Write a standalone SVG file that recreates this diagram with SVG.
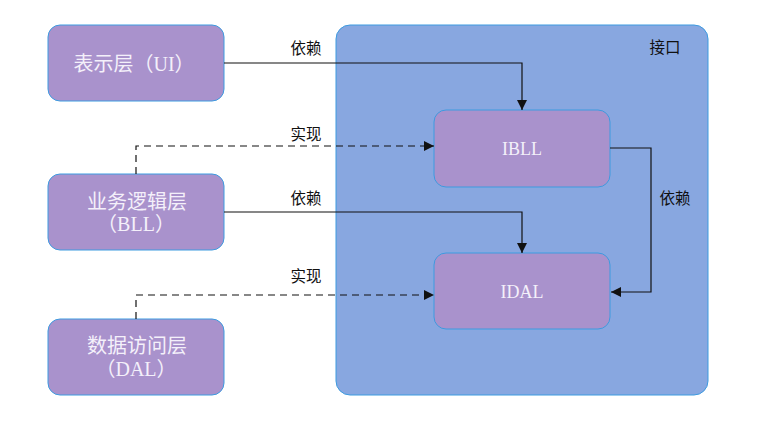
<svg xmlns="http://www.w3.org/2000/svg" width="761" height="433" viewBox="0 0 761 433">
<style>
.node{fill:#A992CC;stroke:#3D9BE0;stroke-width:1}
.cont{fill:#88A7E0;stroke:#3D9BE0;stroke-width:1}
.nt{fill:#F4F0FA;font-family:"Liberation Serif","Noto Sans CJK SC",serif;font-size:20px;text-anchor:middle}
.lb{fill:#111;font-family:"Noto Sans CJK SC",sans-serif;font-size:15.5px;text-anchor:middle}
.ln{fill:none;stroke:#111;stroke-width:1.2}
.dash{stroke-dasharray:7 5}
</style>
<defs>
<marker id="arr" viewBox="0 0 10 10" refX="10" refY="5" markerWidth="10" markerHeight="10" markerUnits="userSpaceOnUse" orient="auto">
<path d="M0,0 L10,5 L0,10 z" fill="#111"/>
</marker>
</defs>
<g id="interface">
<rect class="cont" x="336" y="25" width="372" height="370" rx="14"/>
<text class="lb" x="665" y="53">接口</text>
</g>
<g id="ui">
<rect class="node" x="48" y="25" width="176" height="76" rx="12"/>
<text class="nt" x="134" y="71">表示层（UI）</text>
</g>
<g id="bll">
<rect class="node" x="48" y="174" width="176" height="76" rx="12"/>
<text class="nt" x="137" y="209">业务逻辑层</text>
<text class="nt" x="136" y="231">（BLL）</text>
</g>
<g id="dal">
<rect class="node" x="48" y="319" width="176" height="76" rx="12"/>
<text class="nt" x="137" y="353">数据访问层</text>
<text class="nt" x="136" y="376">（DAL）</text>
</g>
<g id="ibll">
<rect class="node" x="434" y="110" width="176" height="77" rx="12"/>
<text class="nt" x="522" y="155" style="font-size:18px">IBLL</text>
</g>
<g id="idal">
<rect class="node" x="434" y="253" width="176" height="76" rx="12"/>
<text class="nt" x="522" y="298" style="font-size:18px">IDAL</text>
</g>
<g id="connectors">
<path class="ln" d="M224,63 H522 V110" marker-end="url(#arr)"/>
<text class="lb" x="306" y="54">依赖</text>
<path class="ln dash" d="M136,174 V146 H434" marker-end="url(#arr)"/>
<text class="lb" x="306" y="140">实现</text>
<path class="ln" d="M224,212 H522 V253" marker-end="url(#arr)"/>
<text class="lb" x="306" y="204">依赖</text>
<path class="ln dash" d="M136,319 V295 H434" marker-end="url(#arr)"/>
<text class="lb" x="306" y="282">实现</text>
<path class="ln" d="M610,148 H651 V292 H611" marker-end="url(#arr)"/>
<text class="lb" x="675" y="204">依赖</text>
</g>
</svg>
